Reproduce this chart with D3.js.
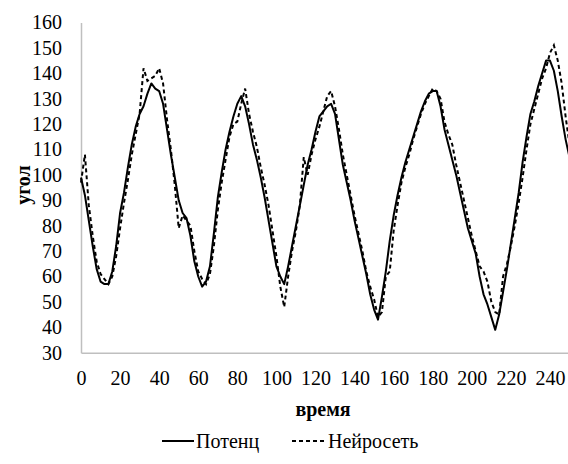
<!DOCTYPE html>
<html>
<head>
<meta charset="utf-8">
<script src="https://cdn.jsdelivr.net/npm/d3@7/dist/d3.min.js"></script>
</head>
<body style="margin:0">
<script>
//time axis (shared by both series)
var time = [];
for (var t = 0; t <= 250; t += 2) time.push(t);

//Потенц
var potenc = [
    99, 92, 82, 72, 63, 58, 57, 57, 62, 72,
    85, 93, 103, 112, 119, 124, 127, 132, 136, 134,
    133, 128, 118, 108, 99, 90, 85, 83, 76, 66,
    60, 56, 58, 64, 77, 91, 101, 110, 117, 123,
    128, 131, 127, 120, 112, 106, 99, 91, 82, 73,
    64, 60, 57, 64, 72, 80, 88, 96, 104, 110,
    117, 123, 125, 127, 128, 124, 114, 104, 97, 90,
    82, 75, 68, 61, 53, 47, 43, 52, 62, 74,
    84, 92, 99, 105, 110, 115, 120, 125, 129, 132,
    133, 133, 127, 118, 112, 106, 100, 93, 86, 79,
    74, 69, 60, 53, 49, 44, 39, 45, 54, 63,
    73, 83, 93, 105, 115, 124, 129, 135, 140, 145,
    145, 141, 133, 123, 114, 107
];

//Нейросеть
var neuro = [
    97, 108, 88, 76, 66, 61, 59, 57, 60, 68,
    79, 89, 98, 108, 116, 124, 142, 137, 138, 139,
    142, 136, 122, 110, 96, 79, 84, 82, 80, 70,
    62, 59, 57, 61, 72, 86, 97, 106, 115, 120,
    121, 128, 134, 124, 117, 111, 103, 96, 88, 78,
    68, 56, 48, 60, 70, 78, 88, 107, 100, 108,
    114, 119, 125, 131, 133, 127, 118, 108, 100, 92,
    84, 77, 70, 62, 56, 51, 44, 46, 60, 62,
    78, 88, 97, 103, 108, 114, 119, 124, 128, 131,
    134, 133, 130, 121, 116, 112, 104, 97, 90, 83,
    76, 70, 64, 62, 58, 50, 46, 45, 60, 65,
    72, 80, 89, 99, 110, 120, 126, 132, 138, 142,
    148, 151, 145, 136, 123, 112
];

//tick labels
var xTicks = [0, 20, 40, 60, 80, 100, 120, 140, 160, 180, 200, 220, 240];
var yTicks = [30, 40, 50, 60, 70, 80, 90, 100, 110, 120, 130, 140, 150, 160];

var width = 568;
var height = 464;

var svg = d3.select("body").append("svg")
    .attr("width", width)
    .attr("height", height);

var x = d3.scaleLinear().domain([0, 250]).range([81, 569.5]);
var y = d3.scaleLinear().domain([30, 160]).range([352.7, 22.5]);

//axes
svg.append("g")
    .attr("transform", "translate(0," + y(30) + ")")
    .call(d3.axisBottom(x).tickValues(xTicks).tickSize(0).tickPadding(18));
svg.append("g")
    .attr("transform", "translate(" + x(0) + ",0)")
    .call(d3.axisLeft(y).tickValues(yTicks).tickSize(0).tickPadding(19));

svg.selectAll(".domain")
    .attr("stroke", "#bfbfbf")
    .attr("stroke-width", 1.5);

//axis titles
svg.append("text")
    .attr("x", 323)
    .attr("y", 416)
    .attr("text-anchor", "middle")
    .attr("font-weight", "bold")
    .text("время");

svg.append("text")
    .attr("transform", "translate(30,185) rotate(-90)")
    .attr("text-anchor", "middle")
    .attr("font-weight", "bold")
    .text("угол");

//lines
var line = function(vals) {
    return d3.line()
        .x(function(d, i) { return x(time[i]); })
        .y(function(d) { return y(d); })(vals);
};

svg.append("path")
    .attr("d", line(potenc))
    .attr("fill", "none")
    .attr("stroke", "#000")
    .attr("stroke-width", 2)
    .attr("stroke-linejoin", "round");

svg.append("path")
    .attr("d", line(neuro))
    .attr("fill", "none")
    .attr("stroke", "#000")
    .attr("stroke-width", 2)
    .attr("stroke-dasharray", "4,3");

//legend
var legend = svg.append("g");
legend.append("line")
    .attr("x1", 162).attr("x2", 194)
    .attr("y1", 441).attr("y2", 441)
    .attr("stroke", "#000")
    .attr("stroke-width", 2);
legend.append("text")
    .attr("x", 196)
    .attr("y", 448)
    .text("Потенц");
legend.append("line")
    .attr("x1", 292).attr("x2", 327)
    .attr("y1", 441).attr("y2", 441)
    .attr("stroke", "#000")
    .attr("stroke-width", 2)
    .attr("stroke-dasharray", "4,3");
legend.append("text")
    .attr("x", 328)
    .attr("y", 448)
    .text("Нейросеть");

//fonts for every text
svg.selectAll("text")
    .attr("font-size", 20)
    .attr("fill", "#000")
    .each(function() {
        this.style.setProperty("font-family", "\"Liberation Serif\", \"Times New Roman\", serif", "important");
    });
</script>
</body>
</html>
